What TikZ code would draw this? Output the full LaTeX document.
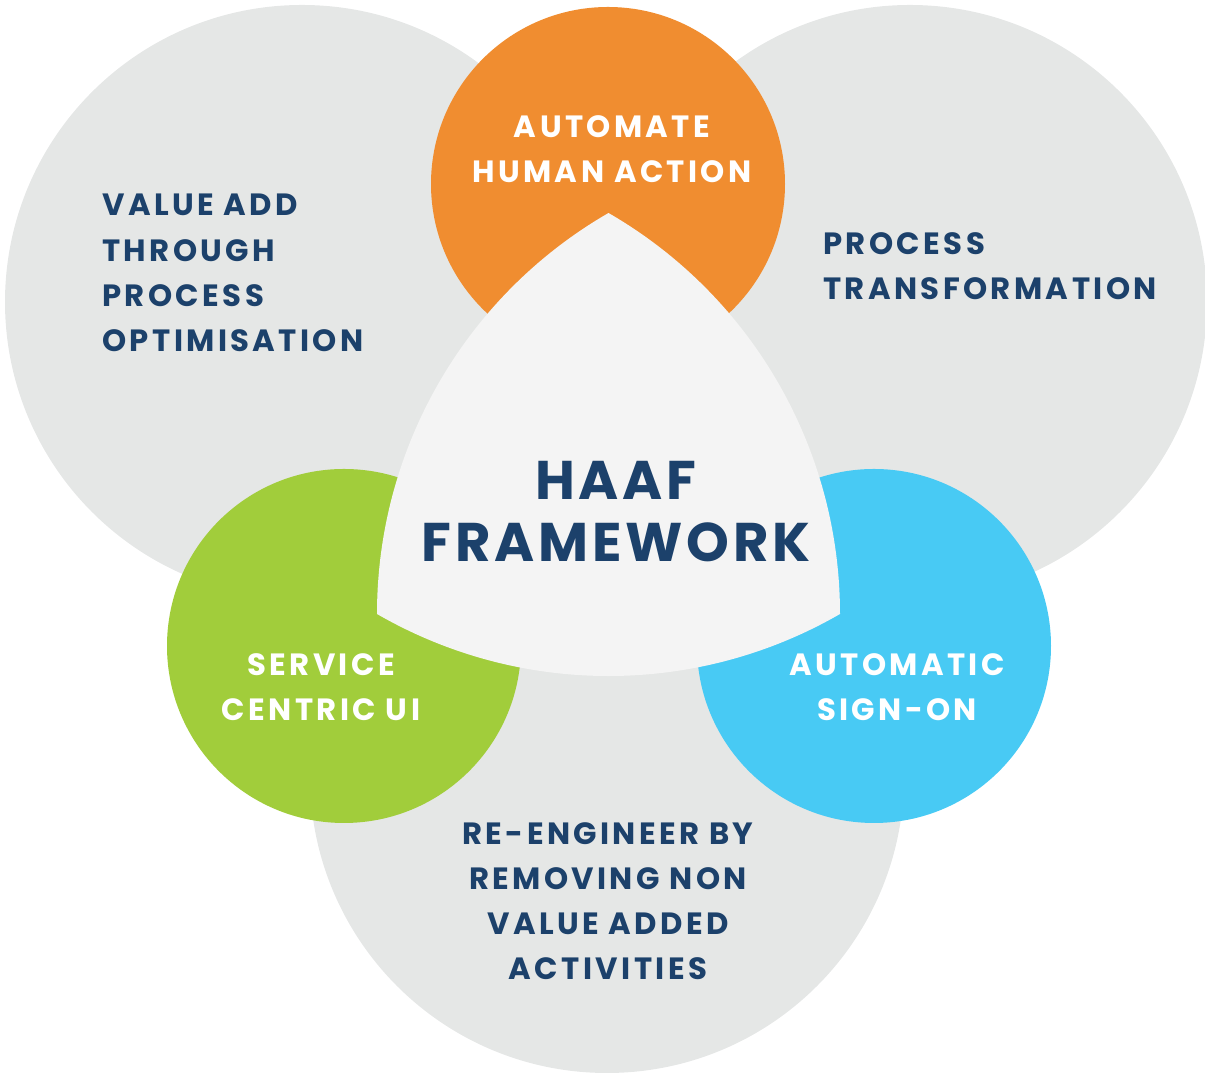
\documentclass[tikz,border=0pt]{standalone}
\usepackage{fontspec}
\setmainfont{Poppins}
\newfontfamily\haafFont[LetterSpace=11]{Poppins}
\newfontfamily\haafBigFont[LetterSpace=7]{Poppins}
\usepackage{tikz}
\definecolor{haafGray}{HTML}{E5E7E6}
\definecolor{haafCore}{HTML}{F4F4F4}
\definecolor{haafOrange}{HTML}{F08D30}
\definecolor{haafGreen}{HTML}{A1CD3B}
\definecolor{haafBlue}{HTML}{48CAF4}
\definecolor{haafNavy}{HTML}{1C416B}
\newcommand{\haafUnit}[0]{0.02cm}

\begin{document}
\begin{tikzpicture}[x=\haafUnit, y=\haafUnit]
  \tikzset{outer text/.style={inner sep=0pt,font=\haafFont\bfseries\fontsize{17.5}{25.7}\selectfont,text=haafNavy},
           inner text/.style={outer text,text=white,align=center}}
  \useasboundingbox (0,0) rectangle (1205,1074);
  % big gray circles
  \fill[haafGray] (302,772) circle[radius=297];
  \fill[haafGray] (910,772) circle[radius=297];
  \fill[haafGray] (607,298) circle[radius=297];
  % coloured circles
  \fill[haafOrange] (608,890) circle[radius=177];
  \fill[haafGreen] (344,428) circle[radius=177];
  \fill[haafBlue] (874,428) circle[radius=177];
  % centre triangle
  \coordinate (corner) at (377,460);
  \fill[haafCore] (corner) arc[start angle=240,end angle=300,radius=463]
    arc[start angle=0,end angle=60,radius=463]
    arc[start angle=120,end angle=180,radius=463] -- cycle;
  \node[outer text,align=left,anchor=west] (valueadd) at (102,801) {VALUE ADD\\THROUGH\\PROCESS\\OPTIMISATION};
  \node[outer text,align=left,anchor=west] (transform) at (823,808) {PROCESS\\TRANSFORMATION};
  \node[outer text,align=center] (reengineer) at (608,173) {RE-ENGINEER BY\\REMOVING NON\\VALUE ADDED\\ACTIVITIES};
  \node[inner text] (automate) at (612,924.5) {AUTOMATE\\HUMAN ACTION};
  \node[inner text] (service) at (321,386.5) {SERVICE\\CENTRIC UI};
  \node[inner text] (signon) at (897,386.5) {AUTOMATIC\\SIGN-ON};
  \node[outer text,align=center,font=\haafBigFont\bfseries\fontsize{31}{35.2}\selectfont] (haaf) at (616,562) {HAAF\\FRAMEWORK};
\end{tikzpicture}
\end{document}
